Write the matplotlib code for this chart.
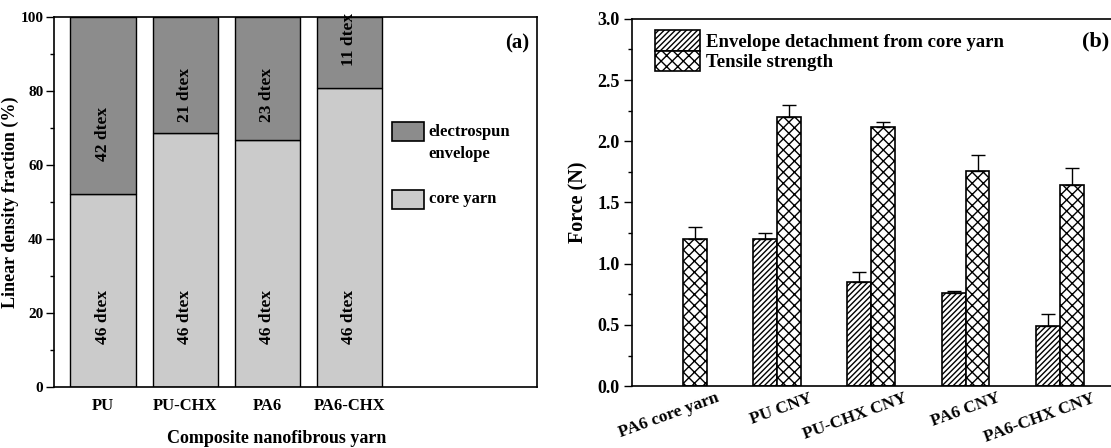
import numpy as np
import matplotlib.pyplot as plt
from matplotlib.patches import Rectangle
from matplotlib.transforms import ScaledTranslation

plt.rcParams['font.family'] = ['Liberation Serif', 'DejaVu Serif']
plt.rcParams['font.weight'] = 'bold'
plt.rcParams['axes.labelweight'] = 'bold'
plt.rcParams['hatch.linewidth'] = 1.0

# (a) linear density of the composite yarns
yarns = ['PU', 'PU-CHX', 'PA6', 'PA6-CHX']
core_dtex = np.array([46, 46, 46, 46])
env_dtex = np.array([42, 21, 23, 11])

# (b) forces
groups = ['PA6 core yarn', 'PU CNY', 'PU-CHX CNY', 'PA6 CNY', 'PA6-CHX CNY']
detach = np.array([0.0, 1.20, 0.85, 0.76, 0.49])
detach_err = np.array([0.0, 0.05, 0.08, 0.02, 0.10])
tensile = np.array([1.20, 2.20, 2.12, 1.76, 1.64])
tensile_err = np.array([0.10, 0.10, 0.04, 0.13, 0.14])

core_frac = core_dtex / (core_dtex + env_dtex) * 100
env_frac = 100 - core_frac

fig = plt.figure(figsize=(11.11, 4.48), dpi=100)
ax1 = fig.add_axes([0.049, 0.136, 0.434, 0.826])
ax2 = fig.add_axes([0.569, 0.138, 0.433, 0.82])

# ---- panel (a): stacked fractions
x = np.arange(1, len(yarns) + 1)
ax1.bar(x, core_frac, width=0.8, color='#cbcbcb', edgecolor='black', linewidth=1.0)
ax1.bar(x, env_frac, width=0.8, bottom=core_frac, color='#8c8c8c',
        edgecolor='black', linewidth=1.0)

env_label_y = [68.5, 79, 79, 94]
for xi, c, e, ey in zip(x, core_dtex, env_dtex, env_label_y):
    ax1.text(xi, 19, f'{c} dtex', rotation=90, ha='center', va='center', fontsize=12.5)
    ax1.text(xi, ey, f'{e} dtex', rotation=90, ha='center', va='center', fontsize=12.5)

ax1.set_xlim(0.405, 6.28)
ax1.set_ylim(0, 100)
ax1.set_xticks(x)
ax1.set_xticklabels(yarns, fontsize=12)
ax1.set_yticks(np.arange(0, 101, 20))
ax1.set_yticks(np.arange(0, 101, 10), minor=True)
ax1.tick_params(axis='y', which='major', direction='out', length=6, width=1,
                labelsize=11, pad=2)
ax1.tick_params(axis='y', which='minor', direction='out', length=3, width=1)
ax1.tick_params(axis='x', length=0, pad=8)
ax1.set_xlabel('Composite nanofibrous yarn', fontsize=13, labelpad=8)
ax1.xaxis.set_label_coords(0.46, -0.115)
ax1.set_ylabel('Linear density fraction (%)', fontsize=13, labelpad=1)
for s in ax1.spines.values():
    s.set_linewidth(1.2)
ax1.text(0.985, 0.955, '(a)', transform=ax1.transAxes, ha='right', va='top', fontsize=15)

# legend drawn by hand so the handle sits beside the first line of text
ax1.add_patch(Rectangle((0.70, 0.665), 0.066, 0.05, transform=ax1.transAxes,
                        facecolor='#8c8c8c', edgecolor='black', linewidth=1.2))
ax1.text(0.776, 0.69, 'electrospun', transform=ax1.transAxes,
         ha='left', va='center', fontsize=12)
ax1.text(0.776, 0.63, 'envelope', transform=ax1.transAxes,
         ha='left', va='center', fontsize=12)
ax1.add_patch(Rectangle((0.70, 0.482), 0.066, 0.05, transform=ax1.transAxes,
                        facecolor='#cbcbcb', edgecolor='black', linewidth=1.2))
ax1.text(0.776, 0.507, 'core yarn', transform=ax1.transAxes,
         ha='left', va='center', fontsize=12)

# ---- panel (b): grouped hatched bars
g = np.arange(len(groups))
w = 0.255
has_detach = detach > 0
ax2.bar(g[has_detach] - w / 2, detach[has_detach], width=w, color='white',
        edgecolor='black', hatch='//////', linewidth=1.2,
        label='Envelope detachment from core yarn')
ax2.errorbar(g[has_detach] - w / 2, detach[has_detach],
             yerr=[np.zeros(has_detach.sum()), detach_err[has_detach]],
             fmt='none', ecolor='black', elinewidth=1.0, capsize=5, capthick=1.0)
ax2.bar(g + w / 2, tensile, width=w, color='white', edgecolor='black',
        hatch='xxx', linewidth=1.2, label='Tensile strength')
ax2.errorbar(g + w / 2, tensile, yerr=[np.zeros(len(g)), tensile_err],
             fmt='none', ecolor='black', elinewidth=1.0, capsize=5, capthick=1.0)

ax2.set_xlim(-0.543, 4.57)
ax2.set_ylim(0, 3.0)
ax2.set_yticks(np.arange(0, 3.01, 0.5))
ax2.set_yticks(np.arange(0, 3.01, 0.25), minor=True)
ax2.set_yticklabels([f'{v:.1f}' for v in np.arange(0, 3.01, 0.5)])
ax2.tick_params(axis='y', which='major', direction='out', length=6, width=1,
                labelsize=13, pad=3)
ax2.tick_params(axis='y', which='minor', direction='out', length=3, width=1)
ax2.set_xticks(g)
ax2.set_xticklabels(groups, fontsize=12.5, rotation=20, ha='right', va='top',
                    rotation_mode='anchor')
ax2.tick_params(axis='x', length=0, pad=3)
shift = ScaledTranslation(0.32, 0, fig.dpi_scale_trans)
for lab in ax2.get_xticklabels():
    lab.set_transform(lab.get_transform() + shift)
ax2.set_ylabel('Force (N)', fontsize=14.5, labelpad=6)
for s in ax2.spines.values():
    s.set_linewidth(1.2)
ax2.text(0.992, 0.965, '(b)', transform=ax2.transAxes, ha='right', va='top', fontsize=16)

leg = ax2.legend(loc='upper left', bbox_to_anchor=(0.048, 0.97), frameon=False,
                 fontsize=13.5, handlelength=2.4, handleheight=1.33, labelspacing=0.0,
                 handletextpad=0.3, borderpad=0, borderaxespad=0)
for h in leg.legend_handles:
    h.set_linewidth(1.2)

fig.savefig('out.png', dpi=100)
